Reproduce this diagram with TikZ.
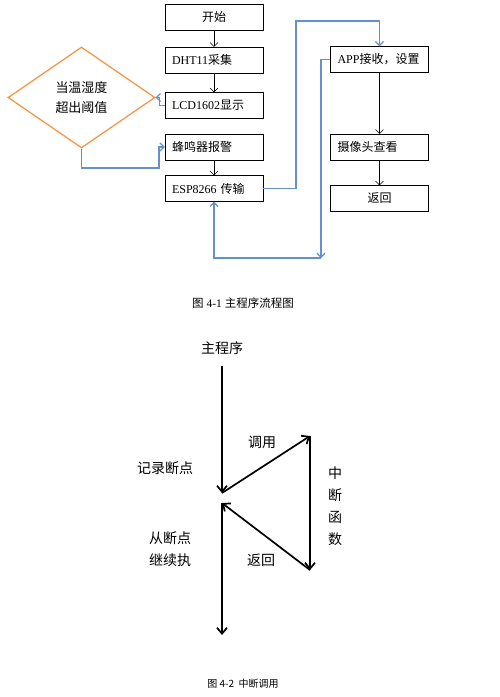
\documentclass[tikz,border=0pt]{standalone}
\usepackage{fontspec}
\setmainfont{Liberation Serif}
\newfontfamily\cjk{Noto Sans CJK SC}
\newcommand{\zh}[1]{{\cjk #1}}
\usetikzlibrary{shapes.geometric,arrows.meta}
\definecolor{flowblue}{RGB}{100,145,205}
\definecolor{floworange}{RGB}{247,150,70}

\begin{document}
\begin{tikzpicture}[x=1pt,y=-1pt,
      >={Straight Barb[length=4pt,width=8pt]},
      stepbox/.style={rectangle,
                    draw,
                    minimum height=26pt,
                    text width=84pt,
                    inner xsep=7pt,
                    inner ysep=0pt,
                    align=left,
                    font=\fontsize{12}{14}\selectfont},
      midbox/.style={stepbox,
                    align=center},
      check/.style={diamond,
                    draw=floworange,
                    line width=1.3pt,
                    minimum width=147pt,
                    minimum height=101pt,
                    inner sep=0pt,
                    align=center,
                    font=\fontsize{13}{20}\selectfont\cjk},
      link/.style={draw=flowblue,
                    line width=1.2pt,
                    ->},
      flow/.style={line width=1.7pt,
                    ->,
                    >={Straight Barb[length=6pt,width=10pt]}},
      word/.style={font=\fontsize{14}{22}\selectfont\cjk,
                    align=center}
    ]
    \useasboundingbox (0,0) rectangle (500,697);

    % main program flow
    \draw (214,17)    node[midbox]  (start)  {\zh{开始}};
    \draw (214,60)    node[stepbox] (dht)    {DHT11\zh{采集}};
    \draw (214,105.5) node[stepbox] (lcd)    {LCD1602\zh{显示}};
    \draw (214,147)   node[stepbox] (buzz)   {\zh{蜂鸣器报警}};
    \draw (214,188.5) node[stepbox] (esp)    {ESP8266 \zh{传输}};
    \draw (379.5,59.5)  node[stepbox] (app)  {APP\zh{接收，设置}};
    \draw (379.5,147)   node[stepbox] (cam)  {\zh{摄像头查看}};
    \draw (379.5,198.5) node[midbox]  (back) {\zh{返回}};
    \draw (81.5,97.5)   node[check]   (limit) {当温湿度\\超出阈值};

    \draw [->] (start) -- (dht);
    \draw [->] (dht)   -- (lcd);
    \draw [->] (buzz)  -- (esp);
    \draw [->] (app)   -- (cam);
    \draw [->] (cam)   -- (back);

    \coordinate (low)  at (159,168);
    \coordinate (up)   at (296,21);
    \coordinate (down) at (321,258);
    \draw [link] (lcd.west) -- ++(-5,0) |- (limit.east);
    \draw [link] (limit.south) |- (low) |- (buzz.west);
    \draw [link] (esp.east) -| (up) -| (app.north);
    \draw [link] (app.west) -| (down);
    \draw [link] (down) -| (esp.south);

    \draw (243,303) node[font=\fontsize{11.5}{14}\selectfont] (cap1)
          {\zh{图} 4-1 \zh{主程序流程图}};

    % interrupt call
    \draw (222,348) node[word] (mainprog) {主程序};
    \coordinate (top)   at (222,366);
    \coordinate (brk)   at (222,493);
    \coordinate (ftop)  at (310,436);
    \coordinate (fbot)  at (310,570);
    \coordinate (res)   at (222,503);
    \coordinate (fin)   at (222,635);

    \draw [flow] (top)  -- (brk);
    \draw [flow] (brk)  -- (ftop);
    \draw [flow] (ftop) -- (fbot);
    \draw [flow] (fbot) -- (res);
    \draw [flow] (res)  -- (fin);

    \draw (262,442) node[word] (call)   {调用};
    \draw (165,468) node[word] (save)   {记录断点};
    \draw (335,506) node[word] (isr)    {中\\断\\函\\数};
    \draw (170,549.5) node[word] (cont) {从断点\\继续执};
    \draw (261,560) node[word] (ret)    {返回};

    \draw (243,684) node[font=\fontsize{10}{12}\selectfont\cjk] (cap2)
          {图 4-2 \ 中断调用};

\end{tikzpicture}
\end{document}
